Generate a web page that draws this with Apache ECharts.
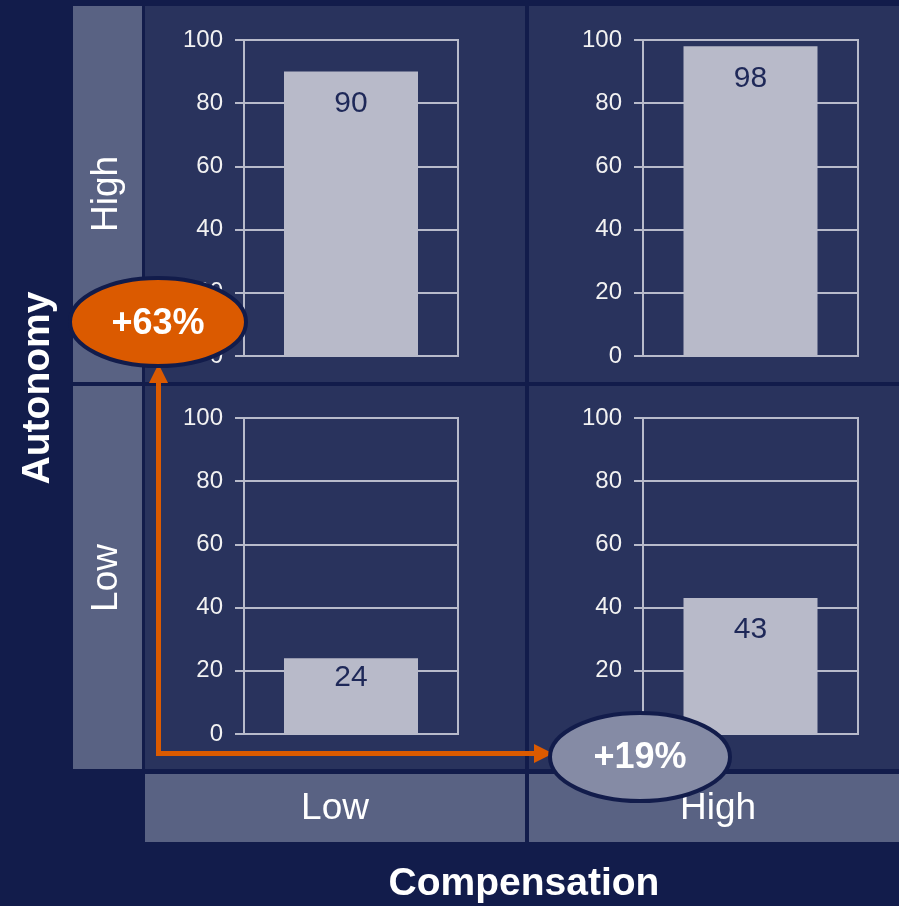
<!DOCTYPE html>
<html>
<head>
<meta charset="utf-8">
<script src="https://cdn.jsdelivr.net/npm/echarts@6/dist/echarts.min.js"></script>
<style>
  html, body { margin: 0; padding: 0; background: #121c4b; }
  #chart { width: 899px; height: 906px; }
</style>
</head>
<body>
<div id="chart"></div>
<script>
// values
const compensationLevels = ['Low', 'High'];
const autonomyLevels = ['High', 'Low'];
const highAutonomy = [90, 98];   // Low comp, High comp
const lowAutonomy = [24, 43];
const yTicks = [0, 20, 40, 60, 80, 100];
const autonomyGain = '+63%';
const compensationGain = '+19%';

const FONT = '"Liberation Sans", Arial, sans-serif';
const lineCol = '#b8bbcb';
const barCol = '#b8bac9';

// panel layout: [left, top] of each plot, rows = autonomy, cols = compensation
const plotLeft = [244, 643];
const plotTop = [40, 418];
const plotW = [214, 215];
const plotH = 316;

const rows = [highAutonomy, lowAutonomy];

let grids = [], xAxes = [], yAxes = [], series = [];
rows.forEach(function (vals, r) {
    vals.forEach(function (v, c) {
        let i = grids.length;
        grids.push({
            left: plotLeft[c], top: plotTop[r], width: plotW[c], height: plotH,
            show: true, borderColor: lineCol, borderWidth: 2, backgroundColor: 'transparent'
        });
        xAxes.push({
            gridIndex: i, type: 'category', data: [compensationLevels[c]],
            axisLine: {show: false}, axisTick: {show: false}, axisLabel: {show: false}, splitLine: {show: false}
        });
        yAxes.push({
            gridIndex: i, type: 'value', min: yTicks[0], max: yTicks[yTicks.length - 1], interval: 20,
            axisLine: {show: true, lineStyle: {color: lineCol, width: 2}},
            axisTick: {show: true, length: 9, lineStyle: {color: lineCol, width: 2}},
            axisLabel: {color: '#f2f2f2', fontSize: 24, fontFamily: FONT, margin: 21},
            splitLine: {show: true, lineStyle: {color: lineCol, width: 2}}
        });
        series.push({
            type: 'bar', xAxisIndex: i, yAxisIndex: i, barWidth: 134,
            itemStyle: {color: barCol},
            label: {
                show: true, position: 'insideTop', distance: v < 30 ? 5 : 17,
                color: '#1e2858', fontSize: 30, fontFamily: FONT
            },
            data: [v]
        });
    });
});

const panelCol = '#29335d';
const stripCol = '#596283';
const orange = '#db5a00';

let graphic = [
    // panels
    {type: 'rect', z: -1, shape: {x: 145, y: 6, width: 380, height: 376}, style: {fill: panelCol}},
    {type: 'rect', z: -1, shape: {x: 529, y: 6, width: 370, height: 376}, style: {fill: panelCol}},
    {type: 'rect', z: -1, shape: {x: 145, y: 386, width: 380, height: 383}, style: {fill: panelCol}},
    {type: 'rect', z: -1, shape: {x: 529, y: 386, width: 370, height: 383}, style: {fill: panelCol}},
    // row strips
    {type: 'rect', z: -1, shape: {x: 73, y: 6, width: 69, height: 376}, style: {fill: stripCol}},
    {type: 'rect', z: -1, shape: {x: 73, y: 386, width: 69, height: 383}, style: {fill: stripCol}},
    // column strips
    {type: 'rect', z: -1, shape: {x: 145, y: 774, width: 380, height: 68}, style: {fill: stripCol}},
    {type: 'rect', z: -1, shape: {x: 529, y: 774, width: 370, height: 68}, style: {fill: stripCol}},
    {type: 'text', x: 107, y: 194, rotation: Math.PI / 2,
        style: {text: autonomyLevels[0], fill: '#fff', font: '37px ' + FONT, textAlign: 'center', textVerticalAlign: 'middle'}},
    {type: 'text', x: 107, y: 578, rotation: Math.PI / 2,
        style: {text: autonomyLevels[1], fill: '#fff', font: '37px ' + FONT, textAlign: 'center', textVerticalAlign: 'middle'}},
    {type: 'text', x: 335, y: 809,
        style: {text: compensationLevels[0], fill: '#fff', font: '37px ' + FONT, textAlign: 'center', textVerticalAlign: 'middle'}},
    {type: 'text', x: 718, y: 809,
        style: {text: compensationLevels[1], fill: '#fff', font: '37px ' + FONT, textAlign: 'center', textVerticalAlign: 'middle'}},
    {type: 'text', x: 38, y: 388, rotation: Math.PI / 2,
        style: {text: 'Autonomy', fill: '#fff', font: 'bold 39px ' + FONT, textAlign: 'center', textVerticalAlign: 'middle'}},
    {type: 'text', x: 524, y: 884,
        style: {text: 'Compensation', fill: '#fff', font: 'bold 39px ' + FONT, textAlign: 'center', textVerticalAlign: 'middle'}},
    // arrows
    {type: 'polyline', z: 50, shape: {points: [[158.5, 380], [158.5, 753.5], [536, 753.5]]},
        style: {stroke: orange, lineWidth: 5, fill: null}},
    {type: 'polygon', z: 50, shape: {points: [[149, 383], [168, 383], [158.5, 364]]}, style: {fill: orange}},
    {type: 'polygon', z: 50, shape: {points: [[534, 744], [534, 763], [553, 753.5]]}, style: {fill: orange}},
    // effect ellipses
    {type: 'ellipse', z: 60, shape: {cx: 158, cy: 322, rx: 88, ry: 44},
        style: {fill: orange, stroke: '#121c4b', lineWidth: 4}},
    {type: 'text', z: 61, x: 158, y: 324,
        style: {text: autonomyGain, fill: '#fff', font: 'bold 36px ' + FONT, textAlign: 'center', textVerticalAlign: 'middle'}},
    {type: 'ellipse', z: 60, shape: {cx: 640, cy: 757, rx: 90, ry: 44},
        style: {fill: '#858ba5', stroke: '#121c4b', lineWidth: 4}},
    {type: 'text', z: 61, x: 640, y: 758,
        style: {text: compensationGain, fill: '#fff', font: 'bold 36px ' + FONT, textAlign: 'center', textVerticalAlign: 'middle'}}
];

let chart = echarts.init(document.getElementById('chart'));
chart.setOption({
    backgroundColor: '#121c4b',
    animation: false,
    grid: grids,
    xAxis: xAxes,
    yAxis: yAxes,
    series: series,
    graphic: graphic
});
</script>
</body>
</html>
